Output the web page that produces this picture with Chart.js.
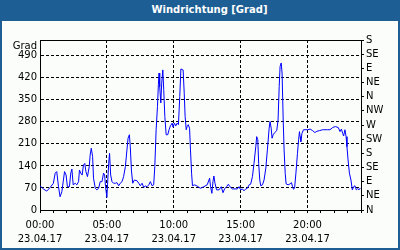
<!DOCTYPE html>
<html><head><meta charset="utf-8">
<script src="https://cdn.jsdelivr.net/npm/chart.js@4/dist/chart.umd.min.js"></script>
<style>
html,body{margin:0;padding:0;background:#fff;}
#wrap{position:relative;width:400px;height:250px;overflow:hidden;}
#bar{position:absolute;left:0;top:0;width:400px;height:21px;box-sizing:border-box;padding-left:19px;background:#1d5e94;color:#fff;font:bold 10px "DejaVu Sans";line-height:20px;text-align:center;}
canvas{position:absolute;left:0;top:0;display:block;}
</style>
</head><body>
<div id="wrap"><canvas id="c" width="400" height="250"></canvas><div id="bar">Windrichtung [Grad]</div></div>
<script>
// ---- data (minutes since 00:00 on 23.04.17, wind direction in degrees) ----
const times = [0,15,30,45,60,68,75,83,90,98,105,110,117,123,132,138,143,149,158,165,173,177,183,189,195,201,206,213,221,225,230,236,240,248,255,263,270,278,285,290,294,300,303,308,312,317,323,330,338,345,353,360,368,375,383,390,395,401,405,410,416,423,435,443,450,458,465,473,480,488,495,503,510,515,521,527,531,534,537,542,546,551,555,560,566,573,579,585,593,597,603,609,615,621,627,632,638,642,647,651,656,660,665,671,675,680,684,693,705,713,
720,735,750,761,765,771,776,780,785,792,803,813,821,828,837,845,852,863,875,885,893,900,908,915,923,930,938,945,953,960,968,972,977,981,986,990,998,1005,1013,1020,1028,1032,1037,1041,1046,1053,1062,1068,1073,1077,1082,1086,1091,1095,1100,1104,1113,1122,1128,1133,1137,1142,1148,1155,1160,1164,1167,1170,1175,1182,1200,1212,1223,1233,1242,1253,1268,1278,1290,1301,1313,1325,1338,1346,1352,1358,1362,1368,1373,1377,1382,1388,1395,1401,1407,1413,1419,1425,1431,1437];
const direction = [77,67,60,71,85,117,122,74,42,58,95,122,111,74,74,117,130,80,85,80,90,127,117,111,143,148,122,106,138,175,196,170,101,69,64,69,90,90,117,111,74,40,80,148,180,111,90,85,85,87,77,85,90,106,138,191,228,239,201,127,85,95,93,85,77,85,72,76,74,80,90,77,80,138,255,329,398,435,392,340,403,445,382,297,239,239,255,267,276,263,276,267,276,271,361,448,446,445,371,297,255,265,271,260,191,117,77,80,76,72,
69,74,80,101,74,53,90,108,85,64,64,74,55,67,74,82,74,67,67,67,74,64,67,61,67,69,80,82,106,148,201,233,223,148,95,77,80,95,133,191,260,281,260,228,239,246,252,286,392,456,467,435,286,191,117,83,80,83,87,74,66,69,117,180,223,249,233,217,243,255,255,257,252,246,250,252,255,255,255,255,262,265,262,249,257,243,235,255,233,201,159,117,95,64,74,77,64,68,64,70];
const timeTicks = [0,300,600,900,1200];
const timeTickLabels = ['00:00','05:00','10:00','15:00','20:00'];
const dateLabel = '23.04.17';
const degreeTicks = [0,70,140,210,280,350,420,490];
const compassLabels = ['N','NE','E','SE','S','SW','W','NW','N','NE','E','SE','S'];
const unitLabel = 'Grad';

const FONT = {family:'DejaVu Sans', size:10};
const CLEAR = 'rgba(0,0,0,0)';

const framePlugin = {
  id:'frame',
  beforeDraw(chart){
    const {ctx,width,height} = chart;
    ctx.save();
    ctx.fillStyle = '#1d5e94';
    ctx.fillRect(0,0,width,height);
    ctx.fillStyle = '#fbfdfb';
    ctx.fillRect(2,21,width-4,height-23);
    ctx.restore();
  },
  afterDraw(chart){
    const {ctx,chartArea:a} = chart;
    ctx.save();
    ctx.strokeStyle = '#000';
    ctx.lineWidth = 1;
    ctx.beginPath();
    ctx.moveTo(a.left, a.top+0.5);
    ctx.lineTo(a.right, a.top+0.5);
    ctx.stroke();
    ctx.fillStyle = '#000';
    ctx.font = '10px "DejaVu Sans"';
    ctx.textAlign = 'right';
    ctx.textBaseline = 'middle';
    ctx.fillText(unitLabel, a.left-3, a.top+6);
    ctx.restore();
  }
};

new Chart(document.getElementById('c'), {
  type:'line',
  data:{
    datasets:[{
      data: times.map((t,i)=>({x:t, y:direction[i]})),
      borderColor:'#0000ff',
      borderWidth:1,
      pointRadius:0,
      tension:0,
      fill:false,
      yAxisID:'y'
    }]
  },
  options:{
    responsive:false,
    animation:false,
    devicePixelRatio:1,
    layout:{padding:{top:40,left:0,right:0,bottom:0}},
    plugins:{legend:{display:false}, tooltip:{enabled:false}, title:{display:false}},
    scales:{
      x:{
        type:'linear', min:0, max:1440,
        afterFit(s){ s.height = 40; },
        ticks:{
          stepSize:60, autoSkip:false, maxRotation:0, minRotation:0,
          color:'#000', font:{...FONT, lineHeight:1.4}, padding:5,
          callback(v){ const k = timeTicks.indexOf(v); return k>=0 ? [timeTickLabels[k], dateLabel] : ''; }
        },
        grid:{
          color(c){ return (c.tick && timeTicks.includes(c.tick.value) && c.tick.value>0) ? '#000' : CLEAR; },
          tickColor:'#000', tickLength:3, lineWidth:1, drawTicks:true
        },
        border:{display:true, color:'#000', width:1, dash:[3,2]}
      },
      y:{
        type:'linear', position:'left', min:0, max:540,
        afterFit(s){ s.width = 40; },
        ticks:{
          stepSize:70, autoSkip:false, color:'#000', font:FONT, padding:3,
          callback(v){ return degreeTicks.includes(v) ? String(v) : ''; }
        },
        grid:{
          color(c){ return (c.tick && degreeTicks.includes(c.tick.value) && c.tick.value>0) ? '#000' : CLEAR; },
          drawTicks:false, lineWidth:1
        },
        border:{display:true, color:'#000', width:1, dash:[3,2]}
      },
      y2:{
        type:'linear', position:'right', min:0, max:540,
        afterFit(s){ s.width = 39; },
        ticks:{
          stepSize:45, autoSkip:false, color:'#000', font:FONT, padding:2,
          callback(v){ return compassLabels[Math.round(v/45)]; }
        },
        grid:{drawOnChartArea:false, tickColor:'#000', tickLength:3, lineWidth:1},
        border:{display:true, color:'#000', width:1}
      }
    }
  },
  plugins:[framePlugin]
});
</script>
</body></html>
